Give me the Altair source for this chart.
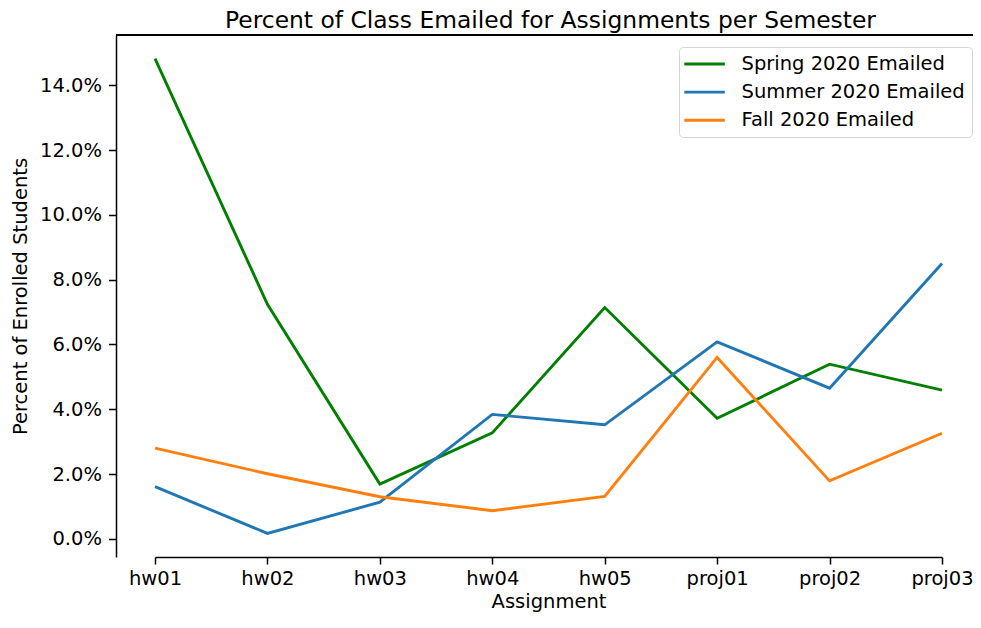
import altair as alt
import pandas as pd

assignments = ["hw01", "hw02", "hw03", "hw04", "hw05", "proj01", "proj02", "proj03"]
spring = [14.82, 7.24, 1.69, 3.27, 7.14, 3.72, 5.39, 4.59]
summer = [1.61, 0.17, 1.13, 3.84, 3.52, 6.08, 4.65, 8.50]
fall = [2.80, 2.01, 1.30, 0.87, 1.31, 5.60, 1.79, 3.26]
series_names = ["Spring 2020 Emailed", "Summer 2020 Emailed", "Fall 2020 Emailed"]
series_colors = ["#008000", "#1f77b4", "#ff7f0e"]
y_ticks = [0.0, 0.02, 0.04, 0.06, 0.08, 0.10, 0.12, 0.14]

rows = []
for name, vals in zip(series_names, [spring, summer, fall]):
    for a, v in zip(assignments, vals):
        rows.append({"Assignment": a, "Series": name, "Value": v / 100.0})
df = pd.DataFrame(rows)

W, H = 857, 522
FONT = "DejaVu Sans"
FS = 19.5

lines = alt.Chart(df).mark_line(strokeWidth=2.9).encode(
    x=alt.X("Assignment:N", sort=assignments,
            scale=alt.Scale(type="point", range=[39, 826], padding=0),
            axis=alt.Axis(title="Assignment", labelAngle=0, labelFontSize=FS,
                          titleFontSize=FS, titleFontWeight="normal",
                          labelColor="#000000", titleColor="#000000",
                          domainColor="#000000", tickColor="#000000",
                          domainWidth=1.5, tickWidth=1.5,
                          tickSize=7, labelPadding=5, titlePadding=5,
                          grid=False, labelFont=FONT, titleFont=FONT)),
    y=alt.Y("Value:Q",
            scale=alt.Scale(domain=[-0.0056, 0.1555], nice=False, zero=False),
            axis=alt.Axis(title="Percent of Enrolled Students", format=".1%",
                          values=y_ticks, labelFontSize=FS, titleFontSize=FS,
                          titleFontWeight="normal", labelColor="#000000",
                          titleColor="#000000", domainColor="#000000",
                          tickColor="#000000", domainWidth=1.5, tickWidth=1.5,
                          tickSize=7.5, labelPadding=7,
                          titlePadding=9, grid=False, labelFont=FONT, titleFont=FONT)),
    color=alt.Color("Series:N", sort=series_names,
                    scale=alt.Scale(domain=series_names, range=series_colors),
                    legend=alt.Legend(title=None, orient="none", legendX=563, legendY=12,
                                      symbolType="M-1.3,0H3.2", symbolSize=324,
                                      symbolStrokeWidth=2.9, labelFontSize=FS,
                                      labelFont=FONT, labelColor="#000000",
                                      rowPadding=8.1, labelOffset=35,
                                      padding=6.5, fillColor="#ffffff",
                                      strokeColor="#d5d5d5", cornerRadius=4,
                                      labelLimit=400)),
)

top_line = alt.Chart(df).mark_rule(color="#000000", strokeWidth=1.5).encode(
    x=alt.value(0), x2=alt.value(W), y=alt.value(0)
)

chart = alt.layer(lines, top_line).properties(
    width=W, height=H,
    title=alt.TitleParams("Percent of Class Emailed for Assignments per Semester",
                          fontSize=23.4, font=FONT, fontWeight="normal",
                          color="#000000", anchor="middle", dx=6, offset=1),
    autosize=alt.AutoSizeParams(type="none"),
    padding={"left": 108, "top": 27, "right": 0, "bottom": 59},
).configure_view(stroke=None)

chart.save("out.html", embed_options={"renderer": "svg", "actions": False})
